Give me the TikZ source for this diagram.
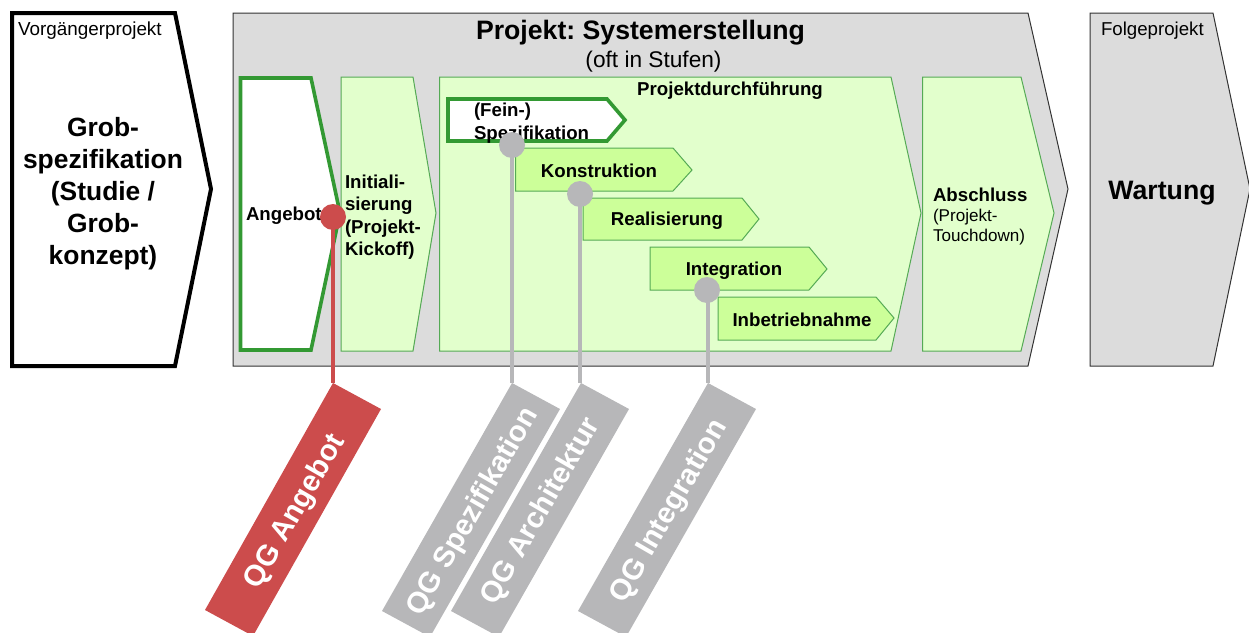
\documentclass[tikz,border=0pt]{standalone}
\usepackage{fontspec}
\setmainfont{Liberation Sans}
\definecolor{pgrey}{HTML}{DCDCDC}
\definecolor{lgreen}{HTML}{E2FFCC}
\definecolor{mgreen}{HTML}{CCFF99}
\definecolor{dgreen}{HTML}{339933}
\definecolor{tgreen}{HTML}{55AA55}
\definecolor{qred}{HTML}{CC4C4C}
\definecolor{qgrey}{HTML}{B7B7B9}
\tikzset{
  x=0.75pt,y=-0.75pt,
  greybox/.style={draw=black!80,line width=0.75pt,fill=pgrey,line join=miter},
  blackbox/.style={draw=black,line width=3pt,fill=white,line join=miter},
  phasebox/.style={draw=tgreen,line width=0.75pt,fill=lgreen},
  stagebox/.style={draw=tgreen,line width=0.75pt,fill=mgreen},
  activebox/.style={draw=dgreen,line width=2.7pt,fill=white,line join=miter},
  txt/.style={inner sep=0pt,outer sep=0pt,text=black},
  bsmall/.style={txt,font=\fontsize{14}{16.9}\selectfont\bfseries},
  rsmall/.style={txt,font=\fontsize{14}{16.9}\selectfont},
  bbig/.style={txt,font=\fontsize{19.8}{24}\selectfont\bfseries},
  qnode/.style={circle,inner sep=0pt,minimum size=19.5pt,fill=#1},
  qline/.style={draw=#1,line width=3pt},
  qtext/.style={inner sep=0pt,text=white,rotate=60,font=\fontsize{22}{26}\selectfont\bfseries},
}
\begin{document}
\frenchspacing
\begin{tikzpicture}
\useasboundingbox (0,0) rectangle (1249,632);
\clip (0,0) rectangle (1249,632);
% outer chevrons
\draw[blackbox] (12,13) -- (175,13) -- (211,189) -- (175,366) -- (12,366) -- cycle;
\draw[greybox] (233,13) -- (1028,13) -- (1068,189) -- (1028,366) -- (233,366) -- cycle;
\draw[greybox] (1090,13) -- (1213,13) -- (1250,189) -- (1213,366) -- (1090,366) -- cycle;
% phases
\draw[activebox] (240.5,78) -- (311,78) -- (340,213) -- (311,350) -- (240.5,350) -- cycle;
\draw[phasebox] (341,77) -- (413,77) -- (436,213) -- (413,351) -- (341,351) -- cycle;
\draw[phasebox] (439.5,77) -- (891,77) -- (921,213) -- (891,351) -- (439.5,351) -- cycle;
\draw[phasebox] (922.5,77) -- (1021,77) -- (1054,213) -- (1021,351) -- (922.5,351) -- cycle;
% stages
\draw[activebox] (448,99) -- (607,99) -- (625,120) -- (607,141) -- (448,141) -- cycle;
\draw[stagebox] (515.7,148) -- (673,148) -- (692,170) -- (673,191) -- (515.7,191) -- cycle;
\draw[stagebox] (583,198) -- (742,198) -- (759,219) -- (742,240) -- (583,240) -- cycle;
\draw[stagebox] (650,247) -- (809,247) -- (827,269) -- (809,290) -- (650,290) -- cycle;
\draw[stagebox] (718,297) -- (876,297) -- (894,318) -- (876,340) -- (718,340) -- cycle;
% texts
\node[txt,font=\fontsize{14.15}{17}\selectfont,anchor=base west] (tv) at (18,35.5) {Vorgängerprojekt};
\node[bbig,align=center] (tg) at (103,194) {Grob-\\spezifikation\\(Studie /\\Grob-\\konzept)};
\node[bbig,font=\fontsize{20}{24}\selectfont\bfseries] (tp) at (640.5,33) {Projekt: Systemerstellung};
\node[txt,font=\fontsize{17}{20}\selectfont] (to) at (653.5,62) {(oft in Stufen)};
\node[rsmall,anchor=base west] (tf) at (1101,35.5) {Folgeprojekt};
\node[bbig,font=\fontsize{20}{24}\selectfont\bfseries] (tw) at (1162,193) {Wartung};
\node[bsmall,anchor=west] (ta) at (246,216) {Angebot};
\node[bsmall,align=left,anchor=west] (ti) at (345,217) {Initiali-\\sierung\\(Projekt-\\Kickoff)};
\node[bsmall] (td) at (730,91) {Projektdurchführung};
\node[bsmall,anchor=base west] (tab) at (933,201) {Abschluss};
\node[txt,font=\fontsize{12.8}{15}\selectfont,align=left,anchor=north west] (tab2) at (933,209) {(Projekt-\\Touchdown)};
\node[bsmall,align=left,anchor=west] (tfs) at (474,123) {(Fein-)\\Spezifikation};
\node[bsmall] (tk) at (599,170.5) {Konstruktion};
\node[bsmall] (tr) at (667,221) {Realisierung};
\node[bsmall] (tin) at (734,271) {Integration};
\node[bsmall] (tbe) at (802,320) {Inbetriebnahme};
% quality gates
\coordinate (fa) at (333,383);
\coordinate (fs) at (512,383);
\coordinate (fr) at (581,383);
\coordinate (fi) at (708,383);
\fill[qred] (fa) -- ++(48,26) -- ++(-128,227) -- ++(-48,-26) -- cycle;
\fill[qgrey] (fs) -- ++(48,26) -- ++(-130,228) -- ++(-48,-26) -- cycle;
\fill[qgrey] (fr) -- ++(48,26) -- ++(-130,228) -- ++(-48,-26) -- cycle;
\fill[qgrey] (fi) -- ++(48,26) -- ++(-130,228) -- ++(-48,-26) -- cycle;
\node[qnode=qred] (ca) at (333,217) {};
\node[qnode=qgrey] (cs) at (512,145) {};
\node[qnode=qgrey] (cr) at (580,194) {};
\node[qnode=qgrey] (ci) at (707,290) {};
\draw[qline=qred] (ca.center) -- (fa);
\draw[qline=qgrey] (cs.center) -- (fs);
\draw[qline=qgrey] (cr.center) -- (cr.center |- fr);
\draw[qline=qgrey] (ci.center) ++(1,0) -- (fi);
\node[qtext] (qa) at (295.5,512) {QG Angebot};
\node[qtext] (qs) at (473.5,512) {QG Spezifikation};
\node[qtext] (qr) at (541,511.5) {QG Architektur};
\node[qtext] (qi) at (669.5,511.5) {QG Integration};
\end{tikzpicture}
\end{document}
